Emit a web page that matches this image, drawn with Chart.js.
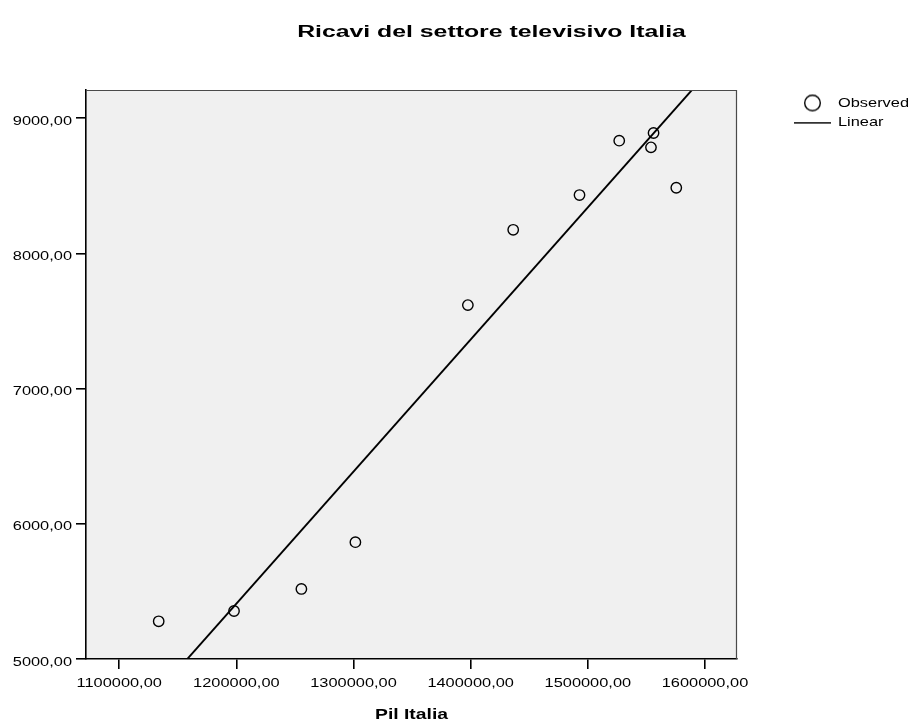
<!DOCTYPE html>
<html>
<head>
<meta charset="utf-8">
<title>Ricavi del settore televisivo Italia</title>
<script src="https://cdn.jsdelivr.net/npm/chart.js@4/dist/chart.umd.min.js"></script>
<style>
  html, body { margin: 0; padding: 0; background: #fff; }
  #chart { display: block; }
</style>
</head>
<body>
<canvas id="chart" width="910" height="722"></canvas>
<script>
// Pil Italia (x) and television-sector revenue (y), one entry per year
const pilItalia = [1133700, 1198000, 1255500, 1301600, 1397600, 1436300, 1492900, 1526800, 1556100, 1553900, 1575500];
const ricaviTv  = [5279, 5355, 5518, 5864, 7618, 8175, 8432, 8834, 8891, 8785, 8486];

// Fitted linear model: ricavi = intercept + slope * pil
const LINEAR_INTERCEPT = -6316;
const LINEAR_SLOPE = 0.009771;

// Axis ranges and tick values
const X_MIN = 1071650, X_MAX = 1627330;
const Y_MIN = 5000, Y_MAX = 9209;
const xTicks = [1100000, 1200000, 1300000, 1400000, 1500000, 1600000];
const yTicks = [5000, 6000, 7000, 8000, 9000];

const FONT = "'Liberation Sans', Arial, sans-serif";
Chart.defaults.font.family = FONT;
Chart.defaults.color = '#000';

const canvas = document.getElementById('chart');
const ctx = canvas.getContext('2d');

// Wide lettering: stretch every text run horizontally around its anchor
function textStretch(font) {
  const size = parseFloat((font.match(/(\d+(?:\.\d+)?)px/) || [0, 12])[1]);
  if (/bold/.test(font)) return size >= 16 ? 1.55 : 1.38;
  return 1.26;
}
const baseFillText = CanvasRenderingContext2D.prototype.fillText;
ctx.fillText = function (text, x, y) {
  const s = textStretch(this.font);
  this.save();
  this.translate(x * (1 - s), 0);
  this.scale(s, 1);
  baseFillText.call(this, text, x, y);
  this.restore();
};

const fmt = v => Number(v).toFixed(2).replace('.', ',');

// Legend marks
function circleMark() {
  const c = document.createElement('canvas');
  c.width = 19; c.height = 19;
  const g = c.getContext('2d');
  g.strokeStyle = '#000'; g.lineWidth = 1.4;
  g.beginPath(); g.arc(9.5, 9.5, 7.8, 0, Math.PI * 2); g.stroke();
  return c;
}
function lineMark() {
  const c = document.createElement('canvas');
  c.width = 37; c.height = 2;
  const g = c.getContext('2d');
  g.fillStyle = '#000'; g.fillRect(0, 0, 37, 1.6);
  return c;
}
const legendMarks = [circleMark(), lineMark()];

const observed = pilItalia.map((x, i) => ({ x, y: ricaviTv[i] }));
const linear = [X_MIN, X_MAX].map(x => ({ x, y: LINEAR_INTERCEPT + LINEAR_SLOPE * x }));

// Plot panel: grey fill and the thin top/right frame
const panel = {
  id: 'panel',
  beforeLayout(chart) {
    const lg = chart.legend;
    if (lg && !lg._fixedWidth) {
      const fit = lg.fit;
      lg.fit = function () { fit.call(this); this.width = 173; };
      lg._fixedWidth = true;
    }
  },
  afterLayout(chart) {
    chart.legend.left = chart.chartArea.right + 50;
    chart.titleBlock.left = 73;
  },
  beforeDraw(chart) {
    const { left, top, right, bottom } = chart.chartArea;
    const c = chart.ctx;
    c.save();
    c.fillStyle = '#f0f0f0';
    c.fillRect(left, top, right - left, bottom - top);
    c.restore();
  },
  afterDraw(chart) {
    const { left, top, right, bottom } = chart.chartArea;
    const c = chart.ctx;
    c.save();
    c.strokeStyle = '#4a4a4a';
    c.lineWidth = 1.2;
    c.beginPath();
    c.moveTo(left, top + 0.5);
    c.lineTo(right - 0.5, top + 0.5);
    c.lineTo(right - 0.5, bottom);
    c.stroke();
    c.restore();
  }
};

new Chart(ctx, {
  data: {
    datasets: [
      {
        type: 'scatter',
        label: 'Observed',
        data: observed,
        pointStyle: 'circle',
        pointRadius: 5.2,
        pointBorderWidth: 1.4,
        borderColor: '#000',
        backgroundColor: 'rgba(0,0,0,0)',
        pointBackgroundColor: 'rgba(0,0,0,0)'
      },
      {
        type: 'line',
        label: 'Linear',
        data: linear,
        borderColor: '#000',
        borderWidth: 1.9,
        pointRadius: 0,
        fill: false,
        clip: 0
      }
    ]
  },
  options: {
    responsive: false,
    animation: false,
    devicePixelRatio: 1,
    layout: { padding: 0 },
    scales: {
      x: {
        type: 'linear',
        position: 'bottom',
        min: X_MIN,
        max: X_MAX,
        afterBuildTicks: s => { s.ticks = xTicks.map(value => ({ value })); },
        afterFit: s => { s.height = 63; },
        ticks: { callback: fmt, padding: 7, font: { size: 13 }, color: '#000', maxRotation: 0, autoSkip: false },
        grid: { drawOnChartArea: false, drawTicks: true, tickLength: 10, color: '#000', lineWidth: 1.6 },
        border: { display: true, color: '#000', width: 1.6 },
        title: { display: true, text: 'Pil Italia', font: { size: 14, weight: 'bold' }, color: '#000', padding: { top: 0, bottom: -1.5 } }
      },
      y: {
        type: 'linear',
        position: 'left',
        min: Y_MIN,
        max: Y_MAX,
        afterBuildTicks: s => { s.ticks = yTicks.map(value => ({ value })); },
        afterFit: s => { s.width = 86; },
        ticks: { callback: fmt, padding: 4, labelOffset: 3, font: { size: 13 }, color: '#000', autoSkip: false },
        grid: { drawOnChartArea: false, drawTicks: true, tickLength: 10, color: '#000', lineWidth: 1.6 },
        border: { display: true, color: '#000', width: 1.6 }
      }
    },
    plugins: {
      title: {
        display: true,
        text: 'Ricavi del settore televisivo Italia',
        font: { size: 16, weight: 'bold' },
        color: '#000',
        padding: { top: 23, bottom: 47.8 }
      },
      legend: {
        display: true,
        position: 'right',
        align: 'start',
        fullSize: false,
        labels: {
          usePointStyle: true,
          pointStyleWidth: 38,
          padding: 6.5,
          color: '#000',
          font: { size: 13 },
          generateLabels(chart) {
            const items = Chart.defaults.plugins.legend.labels.generateLabels(chart);
            items.forEach((it, i) => { it.pointStyle = legendMarks[i]; });
            return items;
          }
        }
      },
      tooltip: { enabled: false }
    }
  },
  plugins: [panel]
});
</script>
</body>
</html>
